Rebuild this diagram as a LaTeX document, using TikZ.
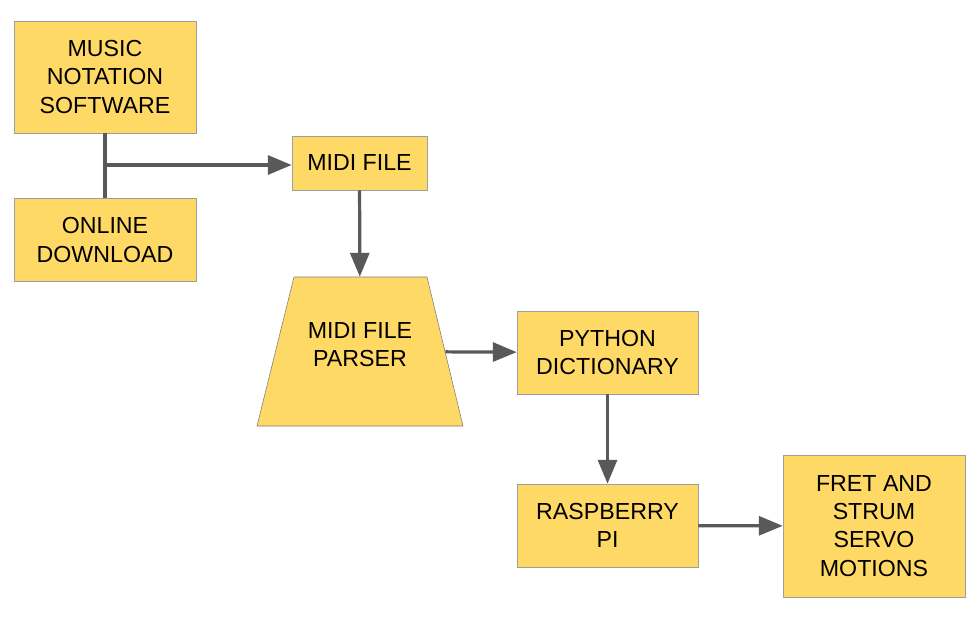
\documentclass[tikz,border=0pt]{standalone}
\usepackage{fontspec}
\setmainfont{Liberation Sans}
\usetikzlibrary{arrows.meta}
\definecolor{boxfill}{HTML}{FFD966}
\definecolor{boxline}{HTML}{9E9E9E}
\definecolor{arrowgray}{HTML}{595959}

\begin{document}
\begin{tikzpicture}[x=0.025cm,y=-0.025cm,
    block/.style={draw=boxline,fill=boxfill,align=center,inner sep=0pt,
      font=\fontsize{16.5}{20}\selectfont},
    link/.style={draw=arrowgray,line width=2.3pt},
    flow/.style={link,-{Triangle[length=17pt,width=13.5pt]}}]
      \useasboundingbox (0,0) rectangle (978,627);

      \node[block,minimum width=4.55cm,minimum height=2.8cm] (music) at (105,77) {MUSIC\\NOTATION\\SOFTWARE};
      \node[block,minimum width=4.55cm,minimum height=2.075cm] (online) at (105,240) {ONLINE\\DOWNLOAD};
      \node[block,minimum width=3.375cm,minimum height=1.35cm] (midi) at (359.5,163) {MIDI FILE};
      % parser outline, text node sits inside it
      \filldraw[draw=boxline!80!black,fill=boxfill] (294,277) -- (427,277) -- (463,426) -- (257,426) -- cycle;
      \node[block,draw=none,fill=none,minimum width=4.25cm,minimum height=3.725cm] (parser) at (360,351.5) {MIDI FILE\\PARSER\\[-10pt]};
      \node[block,minimum width=4.525cm,minimum height=2.075cm] (python) at (607.5,352.5) {PYTHON\\DICTIONARY};
      \node[block,minimum width=4.525cm,minimum height=2.075cm] (pi) at (607.5,525.5) {RASPBERRY\\PI};
      \node[block,minimum width=4.55cm,minimum height=3.55cm] (fret) at (874,526) {FRET AND\\STRUM\\SERVO\\MOTIONS};

      \coordinate (split) at (106,165);
      \draw[link] (music.south) -- (online.north);
      \draw[flow] (split) -- (split -| midi.west);

      \foreach \from/\to in {midi/parser,parser/python,python/pi,pi/fret}
        \draw[flow] (\from) -- (\to);
    \end{tikzpicture}
\end{document}
